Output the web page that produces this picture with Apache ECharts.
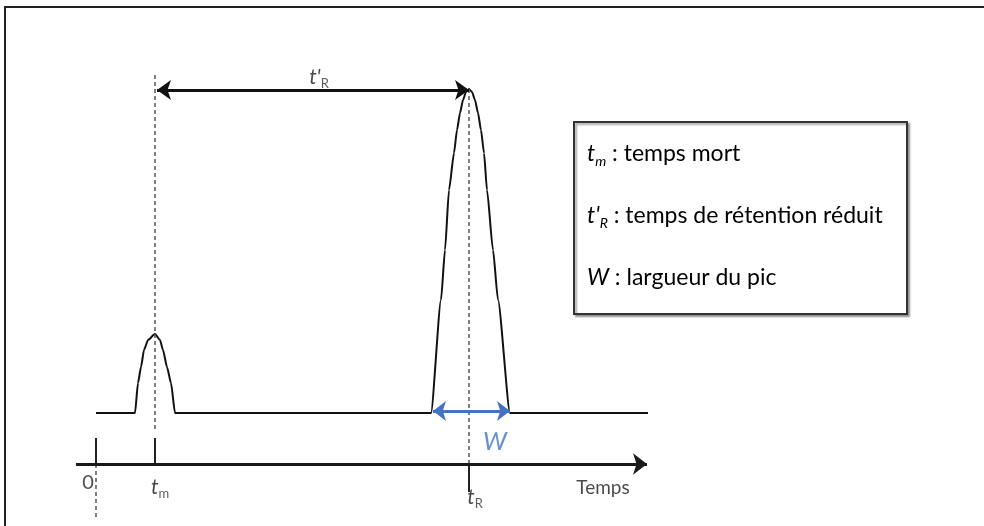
<!DOCTYPE html>
<html><head><meta charset="utf-8">
<script src="https://cdn.jsdelivr.net/npm/echarts@6/dist/echarts.min.js"></script>
<style>html,body{margin:0;padding:0;background:#fff}#c{width:984px;height:526px}</style>
</head><body><div id="c"></div>
<script>
// time (offset from origin) and signal height of the chromatogram trace
const signalTime   = [0, 39, 42, 45, 48, 52, 59, 64, 67, 71, 75, 79, 335, 345, 349, 353, 358, 361, 364, 367, 370, 373, 376, 379, 382, 385, 388, 391, 397, 402, 414, 552];
const signalHeight = [0,  0, 30, 46, 63, 73, 79, 73, 63, 46, 30,  0,   0, 113, 163, 223, 260, 283, 300, 313, 321, 324, 321, 313, 300, 283, 260, 223, 163, 113,   0,   0];
// characteristic times
const tickNames = ['0', 'tm', 'tR'];
const tickTimes = [0, 59, 373];
const peakWidthStart = 337, peakWidthEnd = 414;
const peakApex = 324, deadApex = 79;
const axisLevel = -51, axisStart = -20, axisEnd = 551;
const legendLines = [
  ['t', 'm', ' : temps mort'],
  ["t'", 'R', ' : temps de rétention réduit'],
  ['W', '', ' : largueur du pic']
];

const FONT = 'Lato';
const signal = signalTime.map((t, i) => [t, signalHeight[i]]);
const dashStyle = {type: [4, 3], color: '#555', width: 1.5};
const solid = {type: 'solid', color: '#222', width: 2};
function seg(a, b, style, s1, s2, size) {
  return [{coord: a, lineStyle: style, symbol: s1 || 'none', symbolSize: size},
          {coord: b, symbol: s2 || 'none', symbolSize: size}];
}
const tm = tickTimes[1], tR = tickTimes[2];
const markLines = [
  seg([tm, 338], [tm, -17], dashStyle),
  seg([tR, peakApex], [tR, axisLevel], dashStyle),
  seg([0, axisLevel], [0, -104], dashStyle),
  seg([0, -25], [0, axisLevel], solid),
  seg([tm, -25], [tm, axisLevel], solid),
  seg([tR, axisLevel], [tR, -79], solid),
  seg([axisStart, axisLevel], [axisEnd, axisLevel], {type: 'solid', color: '#1a1a1a', width: 3}, 'none', 'arrow', [16, 14]),
  seg([tm + 2, 323], [tR, 323], {type: 'solid', color: '#111', width: 3}, 'arrow', 'arrow', [15, 14]),
  seg([peakWidthStart, 2], [peakWidthEnd, 2], {type: 'solid', color: '#4472C4', width: 3}, 'arrow', 'arrow', [15, 13])
];

const sub = {fontFamily: FONT, fontSize: 13, verticalAlign: 'bottom', color: '#333', padding: [0, 0, -3, 0]};
const ital = {fontFamily: FONT, fontSize: 21, fontStyle: 'italic', color: '#1a1a1a', verticalAlign: 'bottom'};
const labelPts = [
  {value: [-8, -70], label: {formatter: '0', fontSize: 20}},
  {value: [tm + 5, -74], label: {formatter: '{i|t}{s|m}'}},
  {value: [tR + 6, -84], label: {formatter: '{i|t}{s|R}'}},
  {value: [507, -75], label: {formatter: 'Temps', fontSize: 19, color: '#1a1a1a'}},
  {value: [399, -29], label: {formatter: 'W', fontSize: 25, fontStyle: 'italic', color: '#4472C4'}},
  {value: [223, 336], label: {formatter: "{i|t'}{s|R}"}}
];

const legendGraphics = legendLines.map((l, i) => ({
  type: 'text', left: 587, top: 142 + i * 62,
  style: {
    text: '{i|' + l[0] + '}' + (l[1] ? '{s|' + l[1] + '}' : '') + '{n|' + l[2] + '}',
    rich: {
      i: Object.assign({}, ital, {fontSize: 23}),
      s: Object.assign({}, sub, {fontStyle: 'italic', fontSize: 14, color: '#2a4d8f'}),
      n: {fontFamily: FONT, fontSize: 23, color: '#111', verticalAlign: 'bottom'}
    }
  }
}));

const chart = echarts.init(document.getElementById('c'));
chart.setOption({
  animation: false,
  backgroundColor: '#fff',
  grid: {left: 0, right: 0, top: 0, bottom: 0},
  xAxis: {type: 'value', min: -96, max: 888, show: false},
  yAxis: {type: 'value', min: -113, max: 413, show: false},
  series: [
    {type: 'line', data: signal, symbol: 'none', silent: true, smooth: 0.2, smoothMonotone: 'x',
     lineStyle: {color: '#111', width: 2},
     markLine: {silent: true, label: {show: false}, animation: false, data: markLines}},
    {type: 'scatter', symbolSize: 0, silent: true, data: labelPts,
     label: {show: true, position: 'inside', fontFamily: FONT, color: '#222',
             rich: {i: ital, s: sub}}}
  ],
  graphic: [
    {type: 'rect', shape: {x: 5, y: 7, width: 1200, height: 800},
     style: {fill: 'none', stroke: '#222', lineWidth: 2}},
    {type: 'rect', shape: {x: 574, y: 122, width: 333, height: 192},
     style: {fill: '#fff', stroke: '#333', lineWidth: 2,
             shadowColor: 'rgba(0,0,0,0.35)', shadowOffsetX: 2, shadowOffsetY: 2, shadowBlur: 2}}
  ].concat(legendGraphics)
});
</script></body></html>
